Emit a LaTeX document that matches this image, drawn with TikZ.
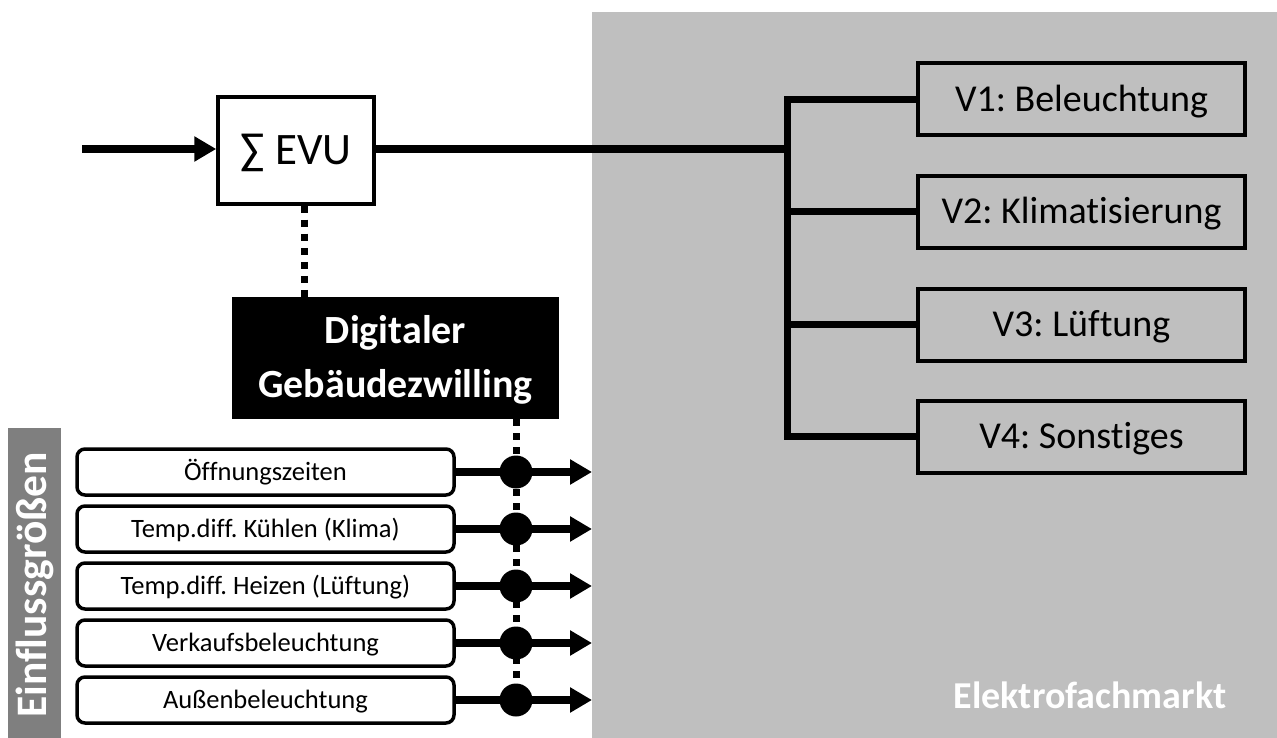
\documentclass[tikz,border=0pt]{standalone}
\usepackage{fontspec}
\setmainfont[Ligatures={NoCommon}]{Carlito}
\usetikzlibrary{arrows.meta}
\definecolor{graybg}{HTML}{BFBFBF}
\definecolor{bargray}{HTML}{7F7F7F}
\frenchspacing
\begin{document}
\begin{tikzpicture}[x=1pt,y=-1pt,
  vbox/.style={draw, line width=4pt, fill=graybg, minimum width=327pt, minimum height=72pt, inner sep=0pt, text height=24pt, text depth=0pt, font=\fontsize{38}{45}\selectfont},
  inbox/.style={draw, line width=3.5pt, rounded corners=8pt, fill=white, minimum width=377pt, minimum height=46pt, inner sep=0pt, text height=16.7pt, text depth=0pt, font=\fontsize{26.5}{31}\selectfont},
  dotnode/.style={circle, fill=black, minimum size=33pt, inner sep=0pt},
  thickline/.style={line width=8pt},
  busline/.style={line width=7pt},
  dotline/.style={line width=7pt, dash pattern=on 7pt off 7pt},
  inarrow/.style={line width=8pt, -{Triangle[length=22pt,width=24pt]}},
]
\useasboundingbox (0,0) rectangle (1277,738);
\fill[white] (0,0) rectangle (1277,738);
% background regions
\fill[graybg] (592,12) rectangle (1277,738);
\fill[bargray] (8,428) rectangle (61,738);
\node[rotate=90, text=white, font=\fontsize{43.5}{50}\selectfont\bfseries] (einfl) at (35,585) {Einflussgrößen};
\node[text=white, font=\fontsize{38}{46}\selectfont\bfseries] (ef) at (1090,695) {Elektrofachmarkt};

% EVU
\node[draw, line width=3.5pt, fill=white, minimum width=156pt, minimum height=107pt, inner sep=0pt, text height=28.4pt, text depth=0pt, font=\fontsize{45}{52}\selectfont] (evu) at (296,150.5) {∑ EVU};
\coordinate (src) at (82,149);
\draw[inarrow] (src) -- (evu.west |- src);

% consumers
\node[vbox] (v1) at (1081.5,99.5) {V1: Beleuchtung};
\node[vbox] (v2) at (1081.5,212) {V2: Klimatisierung};
\node[vbox] (v3) at (1081.5,324.5) {V3: Lüftung};
\node[vbox] (v4) at (1081.5,436.5) {V4: Sonstiges};
\coordinate (bus) at (787,149);
\draw[thickline] (evu.east |- src) -- (bus);
\draw[busline] (v1.west) -| (bus |- v4.west) -- (v4.west);
\draw[busline] (v2.west) -- (bus |- v2.west);
\draw[busline] (v3.west) -- (bus |- v3.west);

% digital twin
\node[fill=black, text=white, minimum width=327pt, minimum height=122pt, align=center, inner sep=0pt, text height=86pt, text depth=8pt, font=\fontsize{40}{54}\selectfont\bfseries] (dgz) at (395.5,358) {Digitaler\\Gebäudezwilling};
\draw[dotline] ([xshift=8pt]evu.south) -- ([xshift=8pt]evu.south |- dgz.north);

% inputs
\foreach \n/\y/\t in {1/472/Öffnungszeiten, 2/529/{Temp.diff. Kühlen (Klima)}, 3/586/{Temp.diff. Heizen (Lüftung)}, 4/643/Verkaufsbeleuchtung, 5/700/Außenbeleuchtung}{
  \node[inbox] (i\n) at (265.5,\y) {\t};
  \coordinate (e\n) at (592,\y);
}
\coordinate (dx) at (516,0);
\draw[dotline] (dgz.south -| dx) -- (dx |- e5);
\foreach \n in {1,...,5}{
  \draw[inarrow] (i\n.east) -- (e\n);
  \node[dotnode] (d\n) at (dx |- e\n) {};
}
\end{tikzpicture}
\end{document}
